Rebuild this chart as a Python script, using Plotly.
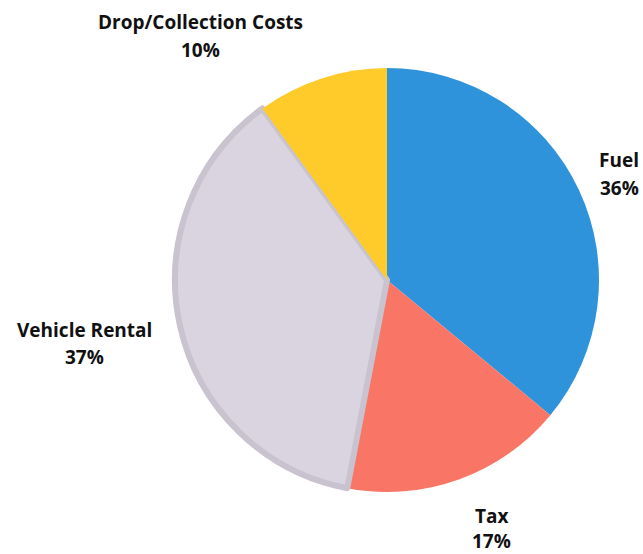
import plotly.graph_objects as go

labels = ["Fuel", "Tax", "Vehicle Rental", "Drop/Collection Costs"]
values = [36, 17, 37, 10]
colors = ["#2F93DB", "#F97566", "#D9D4E0", "#FECB2B"]
line_colors = ["#2F93DB", "#F97566", "#C9C3CF", "#FECB2B"]
line_widths = [0, 0, 6, 0]

W, H = 643, 554
cx, cy, r = 387, 280, 212

fig = go.Figure(go.Pie(
    labels=labels, values=values, sort=False, direction="clockwise", rotation=0,
    marker=dict(colors=colors, line=dict(color=line_colors, width=line_widths)),
    textinfo="none", hoverinfo="label+percent", showlegend=False,
    domain=dict(x=[(cx - r) / W, (cx + r) / W], y=[1 - (cy + r) / H, 1 - (cy - r) / H]),
))

total = sum(values)
# label anchor positions (pixel centers of the two text lines)
label_pos = {
    "Fuel": (619, 160, 188),
    "Tax": (491, 516, 541),
    "Vehicle Rental": (85, 330, 357),
    "Drop/Collection Costs": (200, 22, 50),
}
font = dict(family="Open Sans", size=19, color="#111111")
for lab, val in zip(labels, values):
    x, y1, y2 = label_pos[lab]
    pct = f"{round(100 * val / total)}%"
    for txt, yy in ((lab, y1), (pct, y2)):
        fig.add_annotation(
            x=x / W, y=1 - yy / H, xref="paper", yref="paper",
            text=f"<b>{txt}</b>", showarrow=False, xanchor="center", yanchor="middle",
            font=font,
        )

fig.update_layout(
    width=W, height=H, margin=dict(l=0, r=0, t=0, b=0),
    paper_bgcolor="white", plot_bgcolor="white",
)
fig.write_html("out.html")
